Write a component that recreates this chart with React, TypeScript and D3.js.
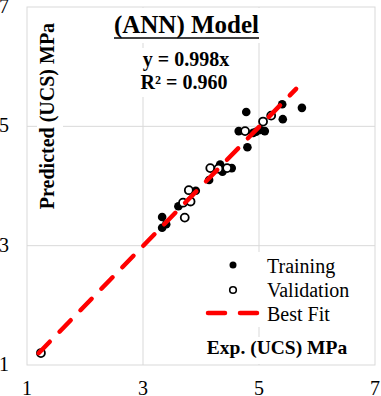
import React from "react";
import * as d3 from "d3";

const trainingX = [3.33, 3.33, 3.40, 3.61, 3.91, 4.14, 4.33, 4.37, 4.53, 4.78, 4.65, 4.80, 4.90, 4.95, 5.10, 5.02, 5.40, 5.41, 5.74];
const trainingY = [3.48, 3.30, 3.36, 3.66, 3.92, 4.10, 4.36, 4.24, 4.30, 5.24, 4.92, 4.65, 4.89, 4.91, 4.92, 4.94, 5.37, 5.12, 5.31];
const validationX = [1.24, 3.72, 3.69, 3.82, 3.79, 4.16, 4.30, 4.45, 4.76, 5.07, 5.21];
const validationY = [1.20, 3.47, 3.72, 3.74, 3.93, 4.30, 4.29, 4.30, 4.92, 5.08, 5.18];
const fitSlope = 0.998;
const fitRange = [1.2, 5.64];
const ticks = [1, 3, 5, 7];
const legendLabels = ["Training", "Validation", "Best Fit"];

const W = 381;
const H = 396;
const FONT = "'Liberation Serif', 'Times New Roman', serif";

export default function App() {
  const x = d3.scaleLinear().domain([1, 7]).range([27, 375]);
  const y = d3.scaleLinear().domain([1, 7]).range([365, 7]);
  const grid = "#d9d9d9";
  const line = d3
    .line<number>()
    .x((d) => x(d))
    .y((d) => y(fitSlope * d));

  return (
    <svg
      width={W}
      height={H}
      style={{ position: "absolute", left: 0, top: 0, background: "#fff" }}
      fontFamily={FONT}
    >
      <rect x={0} y={0} width={W} height={H} fill="#fff" />
      {/* gridlines */}
      {ticks.slice(1, -1).map((t) => (
        <g key={"g" + t}>
          <line x1={x(t)} x2={x(t)} y1={y(7)} y2={y(1)} stroke={grid} strokeWidth={1} />
          <line x1={x(1)} x2={x(7)} y1={y(t)} y2={y(t)} stroke={grid} strokeWidth={1} />
        </g>
      ))}
      <rect x={x(1)} y={y(7)} width={x(7) - x(1)} height={y(1) - y(7)} fill="none" stroke={grid} strokeWidth={1} />

      {/* white label boxes */}
      <rect x={108} y={8} width={158} height={35} fill="#fff" />
      <rect x={137} y={48} width={100} height={49} fill="#fff" />
      <rect x={37} y={14} width={26} height={204} fill="#fff" />
      <rect x={200} y={252} width={150} height={75} fill="#fff" />
      <rect x={198} y={337} width={158} height={27} fill="#fff" />

      {/* tick labels */}
      {ticks.map((t) => (
        <text key={"yl" + t} x={9} y={y(t) + 6} fontSize={20} textAnchor="end" fill="#000">
          {t}
        </text>
      ))}
      {ticks.map((t) => (
        <text key={"xl" + t} x={x(t)} y={395} fontSize={20} textAnchor="middle" fill="#000">
          {t}
        </text>
      ))}

      {/* points */}
      {trainingX.map((v, i) => (
        <circle key={"t" + i} cx={x(v)} cy={y(trainingY[i])} r={4.3} fill="#000" />
      ))}
      {validationX.map((v, i) => (
        <circle key={"v" + i} cx={x(v)} cy={y(validationY[i])} r={4} fill="#fff" stroke="#000" strokeWidth={1.8} />
      ))}

      {/* best fit */}
      <path
        d={line(fitRange) || ""}
        fill="none"
        stroke="#ff0000"
        strokeWidth={4.5}
        strokeDasharray="16 14"
        strokeLinecap="round"
      />

      {/* title */}
      <text x={186.5} y={33} fontSize={25} fontWeight="bold" textAnchor="middle" fill="#000">
        (ANN) Model
      </text>
      <line x1={114} x2={259} y1={38} y2={38} stroke="#000" strokeWidth={1.5} />

      {/* equation */}
      <text x={186} y={66} fontSize={20} fontWeight="bold" textAnchor="middle" fill="#000">
        y = 0.998x
      </text>
      <text x={184} y={89} fontSize={20} fontWeight="bold" textAnchor="middle" fill="#000">
        R² = 0.960
      </text>

      {/* y axis title */}
      <text
        transform={`translate(54,116) rotate(-90)`}
        fontSize={20}
        fontWeight="bold"
        textAnchor="middle"
        fill="#000"
      >
        Predicted (UCS) MPa
      </text>

      {/* x axis title */}
      <text x={277} y={354} fontSize={19.5} fontWeight="bold" textAnchor="middle" fill="#000">
        Exp. (UCS) MPa
      </text>

      {/* legend */}
      <circle cx={233} cy={265} r={3.5} fill="#000" />
      <circle cx={233} cy={290} r={3.3} fill="#fff" stroke="#000" strokeWidth={1.6} />
      <line x1={208} x2={225} y1={313} y2={313} stroke="#ff0000" strokeWidth={4.5} strokeLinecap="round" />
      <line x1={240} x2={257} y1={313} y2={313} stroke="#ff0000" strokeWidth={4.5} strokeLinecap="round" />
      {legendLabels.map((l, i) => (
        <text key={l} x={267} y={273 + i * 24} fontSize={20} fill="#000">
          {l}
        </text>
      ))}
    </svg>
  );
}
